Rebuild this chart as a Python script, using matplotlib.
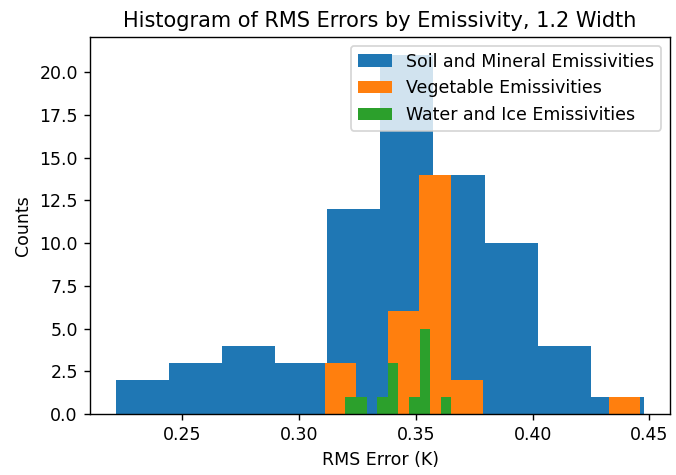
import numpy as np
import matplotlib
matplotlib.use("Agg")
import matplotlib.pyplot as plt

# Bin ranges (RMS error, K) and counts
soil_range = (0.2217, 0.4475)
soil_counts = [2, 3, 4, 3, 12, 21, 14, 10, 4, 1]

veg_range = (0.3109, 0.4461)
veg_counts = [3, 0, 6, 14, 2, 0, 0, 0, 0, 1]

water_range = (0.3198, 0.3652)
water_counts = [1, 1, 0, 1, 3, 0, 1, 5, 0, 1]

labels = ["Soil and Mineral Emissivities", "Vegetable Emissivities", "Water and Ice Emissivities"]

DPI = 125
fig = plt.figure(figsize=(676 / DPI, 475 / DPI), dpi=DPI)
ax = fig.add_axes([90 / 676, 61 / 475, 580 / 676, 377 / 475])

for rng, counts, lab, col in [
    (soil_range, soil_counts, labels[0], "#1f77b4"),
    (veg_range, veg_counts, labels[1], "#ff7f0e"),
    (water_range, water_counts, labels[2], "#2ca02c"),
]:
    edges = np.linspace(rng[0], rng[1], len(counts) + 1)
    ax.hist(edges[:-1], bins=edges, weights=counts, color=col, label=lab)

ax.set_title("Histogram of RMS Errors by Emissivity, 1.2 Width")
ax.set_xlabel("RMS Error (K)")
ax.set_ylabel("Counts")
ax.legend(loc="upper right")

fig.savefig("out.png", dpi=DPI)
